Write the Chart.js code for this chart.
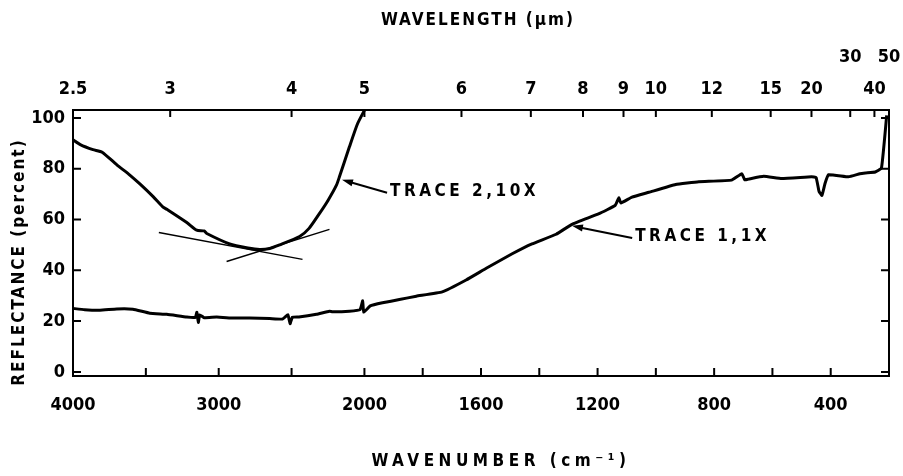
<!DOCTYPE html>
<html>
<head>
<meta charset="utf-8">
<script src="https://cdn.jsdelivr.net/npm/chart.js@4.4.1/dist/chart.umd.min.js"></script>
<style>
  body { margin: 0; background: #fff; }
</style>
</head>
<body>
<canvas id="spectrum" width="903" height="476"></canvas>
<script>
// Trace 1 (1X): wavenumber (cm-1) and reflectance (%)
const trace1W = [4000, 3920, 3815, 3700, 3589, 3473, 3356, 3219, 3160, 3150, 3140, 3130, 3100, 3014, 2900, 2788,
  2650, 2562, 2525, 2510, 2495, 2450, 2329, 2240, 2220, 2103, 2030, 2012, 2005, 1980, 1938, 1880, 1822, 1733,
  1651, 1582, 1493, 1425, 1342, 1288, 1195, 1140, 1127, 1120, 1082, 1024, 932, 853, 740, 705, 695, 682, 630,
  568, 466, 450, 440, 430, 420, 408, 339, 300, 281, 247, 226, 215, 208];
const trace1R = [25.0, 24.5, 24.3, 24.8, 24.7, 23.1, 22.7, 21.6, 21.5, 23.5, 19.5, 22.5, 21.3, 21.6, 21.2, 21.2,
  21.0, 20.8, 22.5, 19.0, 21.5, 21.6, 22.7, 23.9, 23.7, 23.9, 24.5, 28.0, 23.5, 26.0, 27.2, 28.5, 29.8, 31.5,
  36.2, 40.8, 46.5, 50.4, 54.2, 58.1, 62.3, 65.5, 68.5, 66.5, 68.8, 70.7, 73.8, 74.9, 75.5, 78.0, 75.6, 75.9, 77.0,
  76.1, 76.8, 76.5, 71.0, 69.5, 74.0, 77.6, 76.8, 78.0, 78.3, 78.7, 80.2, 92.0, 101.0];

// Trace 2 (10X)
const trace2W = [4000, 3950, 3863, 3800, 3699, 3610, 3541, 3450, 3384, 3356, 3219, 3151, 3100, 3082, 2925, 2800,
  2719, 2650, 2582, 2445, 2380, 2308, 2250, 2192, 2171, 2103, 2048, 2000];
const trace2R = [91.4, 89.5, 87.5, 86.5, 81.5, 77.5, 74.0, 69.0, 65.0, 64.0, 58.8, 55.8, 55.5, 54.5, 50.4, 48.8,
  48.2, 48.6, 50.0, 53.3, 56.5, 62.4, 67.5, 73.5, 76.9, 88.6, 97.6, 103.0];

// tangent lines drawn at the trace 2 minimum
const tangentAW = [3411, 2425];
const tangentAR = [54.9, 44.3];
const tangentBW = [2946, 2240];
const tangentBR = [43.5, 56.1];

// axes
const bottomTickW = [4000, 3500, 3000, 2500, 2000, 1800, 1600, 1400, 1200, 1000, 800, 600, 400];
const bottomLabelW = [4000, 3000, 2000, 1600, 1200, 800, 400];
const topTickLabels = ['2.5', '3', '4', '5', '6', '7', '8', '9', '10', '12', '15', '20', '30', '40', '50'];
const topTickW = [4000, 3333, 2500, 2000, 1667, 1429, 1250, 1111, 1000, 808, 606, 466, 333, 250, 200];
const raisedTopLabels = ['30', '50'];
const yTicks = [0, 20, 40, 60, 80, 100];

// labels with arrows: text anchor and arrow tip, in data units
const noteTexts = ['TRACE 2,10X', 'TRACE 1,1X'];
const noteW = [1912, 1071];
const noteR = [70.9, 53.1];
const noteTipW = [2154, 1288];
const noteTipR = [75.6, 57.5];

// the recorder halves its scale at 2000 cm-1
function toU(w) {
  return w >= 2000 ? (4000 - w) / 2 : 1000 + (2000 - w);
}
function fromU(u) {
  return u <= 1000 ? 4000 - 2 * u : 3000 - u;
}
function points(ws, rs) {
  return ws.map((w, i) => ({ x: toU(w), y: rs[i] }));
}

const textFamily = "'DejaVu Sans Condensed', 'DejaVu Sans', sans-serif";
const tickFont = { family: textFamily, size: 18, weight: 'bold' };

// inward tick marks and the right frame line
const frameTicks = {
  id: 'frameTicks',
  afterDraw(chart) {
    const { ctx, chartArea: a, scales } = chart;
    ctx.save();
    ctx.strokeStyle = '#000';
    ctx.lineWidth = 2;
    ctx.beginPath();
    ctx.moveTo(a.right, a.top);
    ctx.lineTo(a.right, a.bottom);
    scales.x.ticks.forEach(t => {
      const px = scales.x.getPixelForValue(t.value);
      ctx.moveTo(px, a.bottom);
      ctx.lineTo(px, a.bottom - 8);
    });
    scales.x2.ticks.forEach(t => {
      const px = scales.x2.getPixelForValue(t.value);
      ctx.moveTo(px, a.top);
      ctx.lineTo(px, a.top + 7);
    });
    scales.y.ticks.forEach(t => {
      const py = scales.y.getPixelForValue(t.value);
      ctx.moveTo(a.left, py);
      ctx.lineTo(a.left + 8, py);
      ctx.moveTo(a.right, py);
      ctx.lineTo(a.right - 8, py);
    });
    ctx.stroke();
    ctx.restore();
  }
};

// spaced titles and the arrow labels
const titlesAndNotes = {
  id: 'titlesAndNotes',
  afterDraw(chart) {
    const { ctx, scales } = chart;
    ctx.save();
    ctx.fillStyle = '#000';
    ctx.strokeStyle = '#000';
    ctx.textBaseline = 'middle';
    ctx.font = 'bold 17px ' + textFamily;
    ctx.textAlign = 'center';
    ctx.letterSpacing = '2px';
    ctx.fillText('WAVELENGTH (µm)', 478, 21);
    ctx.save();
    ctx.translate(20, 262);
    ctx.rotate(-Math.PI / 2);
    ctx.fillText('REFLECTANCE (percent)', 0, 0);
    ctx.restore();
    ctx.letterSpacing = '4.5px';
    ctx.fillText('WAVENUMBER (cm⁻¹)', 501, 462);

    ctx.textAlign = 'left';
    ctx.letterSpacing = '3.5px';
    noteTexts.forEach((text, i) => {
      const tx = scales.x.getPixelForValue(toU(noteW[i]));
      const ty = scales.y.getPixelForValue(noteR[i]);
      const hx = scales.x.getPixelForValue(toU(noteTipW[i]));
      const hy = scales.y.getPixelForValue(noteTipR[i]);
      ctx.fillText(text, tx, ty);
      const sx = tx - 3, sy = ty + 1;
      const ang = Math.atan2(hy - sy, hx - sx);
      ctx.lineWidth = 2;
      ctx.beginPath();
      ctx.moveTo(sx, sy);
      ctx.lineTo(hx - 8 * Math.cos(ang), hy - 8 * Math.sin(ang));
      ctx.stroke();
      ctx.beginPath();
      ctx.moveTo(hx, hy);
      ctx.lineTo(hx - 11 * Math.cos(ang) + 3.5 * Math.sin(ang), hy - 11 * Math.sin(ang) - 3.5 * Math.cos(ang));
      ctx.lineTo(hx - 11 * Math.cos(ang) - 3.5 * Math.sin(ang), hy - 11 * Math.sin(ang) + 3.5 * Math.cos(ang));
      ctx.closePath();
      ctx.fill();
    });
    ctx.restore();
  }
};

new Chart(document.getElementById('spectrum'), {
  type: 'line',
  data: {
    datasets: [
      { label: 'Trace 1, 1X', data: points(trace1W, trace1R), borderColor: '#000', borderWidth: 3, pointRadius: 0, tension: 0.1 },
      { label: 'Trace 2, 10X', data: points(trace2W, trace2R), borderColor: '#000', borderWidth: 3, pointRadius: 0, tension: 0.2 },
      { label: 'Tangent A', data: points(tangentAW, tangentAR), borderColor: '#000', borderWidth: 1.5, pointRadius: 0 },
      { label: 'Tangent B', data: points(tangentBW, tangentBR), borderColor: '#000', borderWidth: 1.5, pointRadius: 0 }
    ]
  },
  options: {
    responsive: false,
    animation: false,
    layout: { padding: { right: 14 } },
    plugins: { legend: { display: false }, tooltip: { enabled: false } },
    scales: {
      x: {
        type: 'linear',
        position: 'bottom',
        min: 0,
        max: toU(200),
        grid: { display: false },
        border: { display: true, color: '#000', width: 2 },
        afterBuildTicks: scale => { scale.ticks = bottomTickW.map(w => ({ value: toU(w) })); },
        afterFit: scale => { scale.height = 100; },
        ticks: {
          autoSkip: false,
          maxRotation: 0,
          padding: 11,
          color: '#000',
          font: tickFont,
          callback: value => {
            const w = Math.round(fromU(value));
            return bottomLabelW.includes(w) ? String(w) : '';
          }
        }
      },
      x2: {
        type: 'linear',
        position: 'top',
        min: 0,
        max: toU(200),
        grid: { display: false },
        border: { display: true, color: '#000', width: 2 },
        afterBuildTicks: scale => { scale.ticks = topTickW.map(w => ({ value: toU(w) })); },
        afterFit: scale => { scale.height = 110; },
        ticks: {
          autoSkip: false,
          maxRotation: 0,
          padding: -3,
          color: '#000',
          font: Object.assign({}, tickFont, { lineHeight: 1.75 }),
          callback: (value, index) => {
            const label = topTickLabels[index];
            return raisedTopLabels.includes(label) ? [label, ''] : label;
          }
        }
      },
      y: {
        type: 'linear',
        min: -1.6,
        max: 103.1,
        grid: { display: false },
        border: { display: true, color: '#000', width: 2 },
        afterBuildTicks: scale => { scale.ticks = yTicks.map(v => ({ value: v })); },
        afterFit: scale => { scale.width = 73; },
        ticks: { padding: 0, color: '#000', font: tickFont }
      }
    }
  },
  plugins: [frameTicks, titlesAndNotes]
});
</script>
</body>
</html>
